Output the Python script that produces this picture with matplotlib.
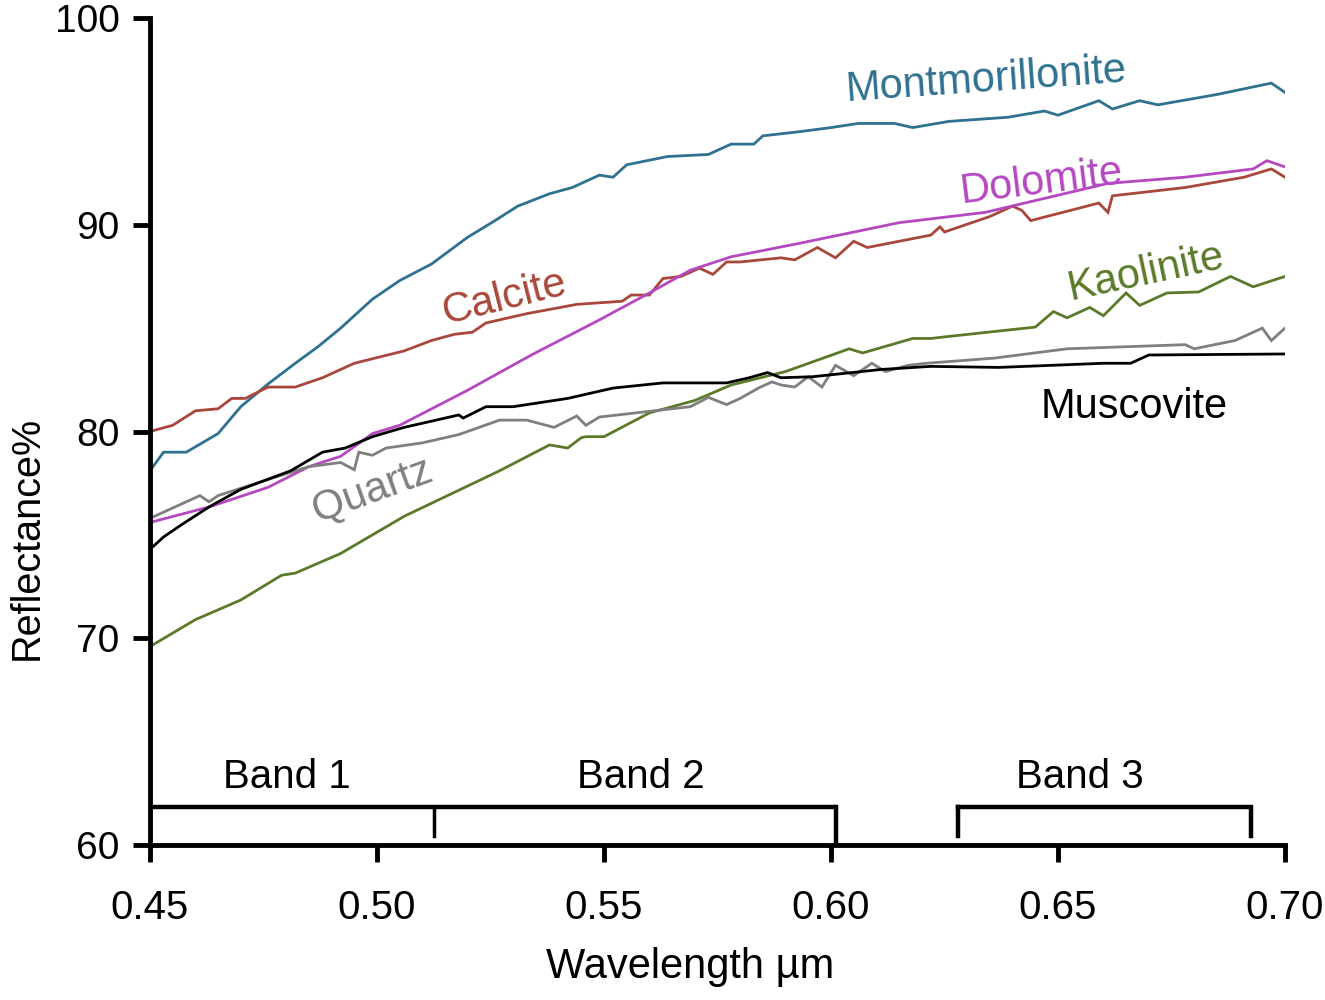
import matplotlib
matplotlib.use("Agg")
import matplotlib.pyplot as plt

plt.rcParams['font.family'] = ['Liberation Sans', 'DejaVu Sans']

# wavelength (um) / reflectance (%)
mont_x = [0.450, 0.453, 0.458, 0.465, 0.470, 0.476, 0.482, 0.487, 0.492, 0.499,
          0.505, 0.512, 0.520, 0.526, 0.531, 0.538, 0.543, 0.549, 0.552, 0.555,
          0.564, 0.573, 0.578, 0.583, 0.585, 0.593, 0.600, 0.606, 0.614, 0.618,
          0.626, 0.639, 0.647, 0.650, 0.659, 0.662, 0.668, 0.672, 0.685, 0.697, 0.700]
mont_y = [78.1, 79.0, 79.0, 79.9, 81.2, 82.3, 83.3, 84.1, 85.0, 86.4,
          87.3, 88.1, 89.4, 90.2, 90.9, 91.5, 91.8, 92.4, 92.3, 92.9,
          93.3, 93.4, 93.9, 93.9, 94.3, 94.5, 94.7, 94.9, 94.9, 94.7,
          95.0, 95.2, 95.5, 95.3, 96.0, 95.6, 96.0, 95.8, 96.3, 96.85, 96.4]

calc_x = [0.450, 0.455, 0.460, 0.465, 0.468, 0.471, 0.476, 0.482, 0.488, 0.495,
          0.506, 0.512, 0.517, 0.521, 0.524, 0.533, 0.544, 0.554, 0.556, 0.560,
          0.563, 0.567, 0.571, 0.574, 0.577, 0.580, 0.589, 0.592, 0.597, 0.601,
          0.605, 0.608, 0.615, 0.622, 0.624, 0.625, 0.635, 0.640, 0.642, 0.644,
          0.659, 0.661, 0.662, 0.678, 0.691, 0.697, 0.700]
calc_y = [80.0, 80.3, 81.0, 81.1, 81.6, 81.6, 82.15, 82.15, 82.6, 83.3,
          83.9, 84.4, 84.7, 84.8, 85.25, 85.7, 86.15, 86.3, 86.6, 86.6,
          87.4, 87.5, 87.9, 87.6, 88.2, 88.2, 88.4, 88.3, 88.9, 88.4,
          89.2, 88.9, 89.2, 89.5, 89.9, 89.65, 90.4, 90.9, 90.7, 90.2,
          91.05, 90.6, 91.4, 91.8, 92.3, 92.7, 92.3]

dolo_x = [0.450, 0.463, 0.476, 0.485, 0.492, 0.499, 0.505, 0.520, 0.534, 0.549,
          0.560, 0.569, 0.578, 0.593, 0.615, 0.634, 0.661, 0.678, 0.693, 0.696, 0.700]
dolo_y = [75.6, 76.35, 77.3, 78.3, 78.8, 79.9, 80.3, 82.0, 83.7, 85.4,
          86.7, 87.8, 88.45, 89.1, 90.1, 90.6, 92.0, 92.3, 92.7, 93.1, 92.8]

kaol_x = [0.450, 0.460, 0.470, 0.479, 0.482, 0.492, 0.506, 0.527, 0.538, 0.542,
          0.545, 0.546, 0.550, 0.560, 0.570, 0.578, 0.590, 0.604, 0.607, 0.618,
          0.622, 0.626, 0.645, 0.649, 0.652, 0.657, 0.660, 0.665, 0.668, 0.674,
          0.681, 0.688, 0.693, 0.700]
kaol_y = [69.6, 70.9, 71.85, 73.05, 73.15, 74.1, 75.9, 78.1, 79.35, 79.2,
          79.7, 79.75, 79.75, 80.9, 81.5, 82.25, 82.9, 84.0, 83.8, 84.5,
          84.5, 84.6, 85.05, 85.8, 85.5, 86.0, 85.6, 86.7, 86.1, 86.7,
          86.75, 87.5, 87.0, 87.5]

musc_x = [0.450, 0.453, 0.457, 0.463, 0.470, 0.481, 0.488, 0.493, 0.499, 0.506,
          0.518, 0.519, 0.524, 0.530, 0.542, 0.552, 0.563, 0.577, 0.582, 0.586,
          0.589, 0.596, 0.611, 0.622, 0.637, 0.660, 0.666, 0.670, 0.700]
musc_y = [74.3, 74.9, 75.5, 76.35, 77.2, 78.1, 79.0, 79.2, 79.75, 80.2,
          80.8, 80.65, 81.2, 81.2, 81.6, 82.1, 82.35, 82.35, 82.6, 82.85,
          82.6, 82.65, 83.0, 83.15, 83.1, 83.3, 83.3, 83.7, 83.75]

quar_x = [0.450, 0.461, 0.463, 0.465, 0.477, 0.485, 0.492, 0.495, 0.496, 0.499,
          0.502, 0.510, 0.518, 0.527, 0.533, 0.539, 0.544, 0.546, 0.549, 0.569,
          0.573, 0.577, 0.580, 0.584, 0.587, 0.589, 0.592, 0.595, 0.598, 0.601,
          0.605, 0.609, 0.612, 0.617, 0.621, 0.636, 0.652, 0.678, 0.680, 0.689,
          0.695, 0.697, 0.700]
quar_y = [75.8, 76.9, 76.6, 76.9, 77.75, 78.3, 78.5, 78.15, 79.0, 78.85,
          79.2, 79.45, 79.85, 80.55, 80.55, 80.2, 80.75, 80.3, 80.7, 81.2,
          81.65, 81.3, 81.6, 82.1, 82.4, 82.25, 82.15, 82.65, 82.15, 83.2,
          82.7, 83.3, 82.9, 83.2, 83.3, 83.55, 84.0, 84.2, 84.0, 84.4,
          85.0, 84.4, 85.0]

series = [
    ("Montmorillonite", mont_x, mont_y, "#2f7190"),
    ("Calcite", calc_x, calc_y, "#a8483a"),
    ("Dolomite", dolo_x, dolo_y, "#b548c0"),
    ("Kaolinite", kaol_x, kaol_y, "#5a7a2a"),
    ("Quartz", quar_x, quar_y, "#7f7f7f"),
    ("Muscovite", musc_x, musc_y, "#000000"),
]

# label position (x, y), rotation
label_pos = {
    "Montmorillonite": (0.6341, 97.0, 4),
    "Dolomite": (0.6463, 92.07, 7),
    "Calcite": (0.5282, 86.46, 14),
    "Kaolinite": (0.6694, 87.7, 12),
    "Quartz": (0.4989, 77.17, 20),
    "Muscovite": (0.6667, 81.18, 0),
}

xticks = [0.45, 0.50, 0.55, 0.60, 0.65, 0.70]
yticks = [60, 70, 80, 90, 100]

bands = ["Band 1", "Band 2", "Band 3"]
band_mid = [0.4802, 0.5582, 0.6548]
band12 = [0.45, 0.5125, 0.601]
band3 = [0.628, 0.6925]

fig = plt.figure(figsize=(13.25, 10), dpi=100)
ax = fig.add_axes([0.1132, 0.155, 0.8566, 0.827])

for name, xs, ys, c in series:
    ax.plot(xs, ys, color=c, lw=2.0, solid_joinstyle='miter')
    lx, ly, rot = label_pos[name]
    ax.text(lx, ly, name, color=c, fontsize=30, rotation=rot,
            ha='center', va='center', rotation_mode='anchor')

# band brackets
ybr = 61.85
ax.plot([band12[0], band12[2]], [ybr, ybr], color='black', lw=3.2, solid_capstyle='butt')
ax.plot([band12[1], band12[1]], [ybr, 60.45], color='black', lw=2.5)
ax.plot([band12[2], band12[2]], [ybr, 60.0], color='black', lw=3.2)
ax.plot([band3[0], band3[1], band3[1]], [ybr, ybr, 60.45], color='black', lw=3.2,
        solid_joinstyle='miter')
ax.plot([band3[0], band3[0]], [ybr, 60.45], color='black', lw=3.2)
for b, m in zip(bands, band_mid):
    ax.text(m, 63.3, b, fontsize=29, ha='center', va='center')

ax.set_xlim(0.45, 0.70)
ax.set_ylim(60, 100)
ax.set_xticks(xticks)
ax.set_xticklabels(["%.2f" % v for v in xticks])
ax.set_yticks(yticks)
ax.tick_params(axis='both', direction='out', length=12, width=3.5)
ax.tick_params(axis='x', pad=20, labelsize=29)
ax.tick_params(axis='y', pad=10, labelsize=28)
for s in ['top', 'right']:
    ax.spines[s].set_visible(False)
for s in ['left', 'bottom']:
    ax.spines[s].set_linewidth(3.5)

fig.text(0.020, 0.462, "Reflectance%", rotation=90, fontsize=28.5, ha='center', va='center')
fig.text(0.521, 0.033, "Wavelength µm", fontsize=30, ha='center', va='center')

fig.savefig("out.png", dpi=100, facecolor='white')
